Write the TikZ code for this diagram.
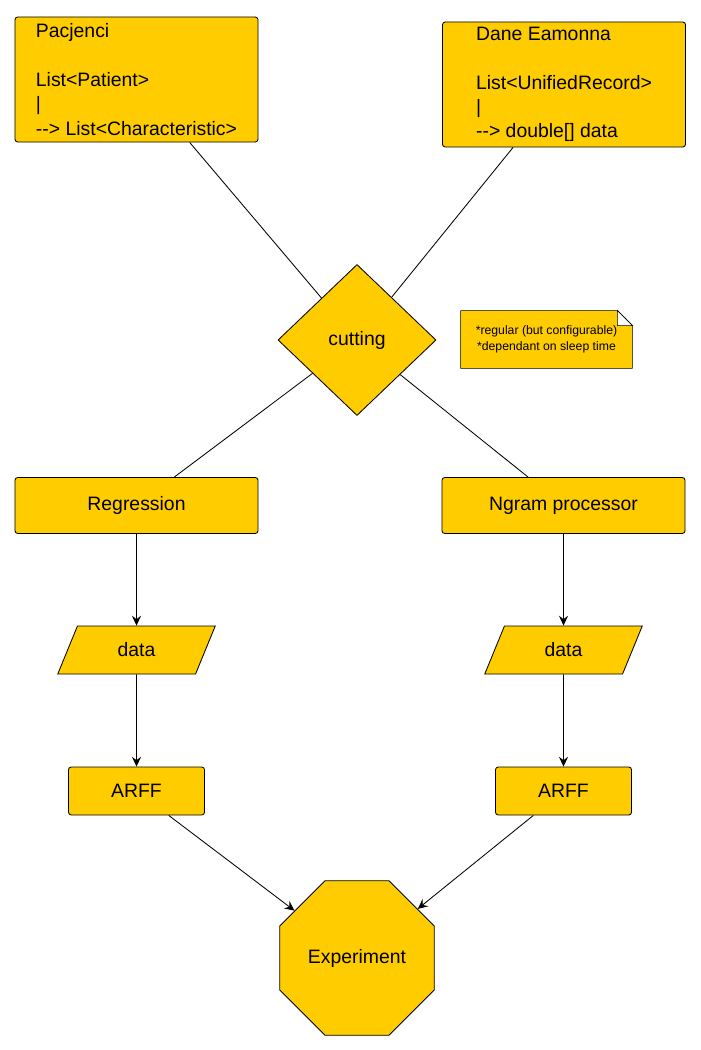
\documentclass[tikz,border=0pt]{standalone}
\usepackage{fontspec}
\setmainfont{Liberation Sans}
\usetikzlibrary{shapes.geometric, backgrounds, arrows.meta}
\definecolor{flowyellow}{HTML}{FFCC00}

\begin{document}
\begin{tikzpicture}[>={Stealth[length=7pt, width=6.5pt, inset=2.5pt]}, x=0.025cm, y=-0.025cm, line width=0.6pt,
    every node/.style={font=\fontsize{13.8}{17.3}\selectfont},
    block/.style={draw, fill=flowyellow, rounded corners=2pt, align=left},
    decision/.style={diamond, draw, fill=flowyellow, inner sep=0pt, minimum width=3.95cm, minimum height=3.775cm},
    io/.style={trapezium, trapezium left angle=71.6, trapezium right angle=108.4, trapezium stretches=true, draw, fill=flowyellow, minimum width=3.95cm, minimum height=1.2cm},
    finish/.style={regular polygon, regular polygon sides=8, draw, fill=flowyellow, inner sep=0pt, minimum size=4.18cm},
    memo/.style={align=center, inner sep=0pt, minimum width=4.275cm, minimum height=1.425cm, font=\fontsize{8.7}{11.4}\selectfont}]
    \useasboundingbox (0, 0) rectangle (700, 1050);

    % Nodes
    \node[block, minimum width=6.075cm, minimum height=3.125cm] (pac) at (136.5, 79.5) {Pacjenci\\ \mbox{}\\ List<Patient>\\ |\\ -{}-> List<Characteristic>};
    \node[block, minimum width=6.075cm, minimum height=3.125cm] (dane) at (564, 84.5) {Dane Eamonna\\ \mbox{}\\ List<UnifiedRecord>\\ |\\ -{}-> double[] data};
    \node[decision] (cut) at (357, 340) {cutting};
    \node[memo] (note) at (546.5, 339.5) {*regular (but configurable)\\{}*dependant on sleep time};
    \node[block, minimum width=6.075cm, minimum height=1.4cm] (reg) at (136.5, 505.5) {Regression};
    \node[block, minimum width=6.075cm, minimum height=1.4cm] (ngram) at (563.5, 505.5) {Ngram processor};
    \node[io] (dataL) at (136.5, 650) {data};
    \node[io] (dataR) at (563.5, 650) {data};
    \node[block, minimum width=3.4cm, minimum height=1.2cm] (arffL) at (136.5, 791) {ARFF};
    \node[block, minimum width=3.4cm, minimum height=1.2cm] (arffR) at (563.5, 791) {ARFF};
    \node[finish] (exp) at (357, 958) {Experiment};

    % Note sheet
    \begin{scope}[on background layer]
        \draw[fill=flowyellow] (note.south west) -- (note.north west) -- ([xshift=-0.375cm]note.north east) -- ([yshift=-0.375cm]note.north east) -- (note.south east) -- cycle;
        \draw[fill=white, line width=0.4pt] ([xshift=-0.375cm]note.north east) -- ([xshift=-0.375cm, yshift=-0.375cm]note.north east) -- ([yshift=-0.375cm]note.north east) -- cycle;
    \end{scope}

    % Edges
    \draw (pac) -- (cut);
    \draw (dane) -- (cut);
    \draw (cut) -- (reg);
    \draw (cut) -- (ngram);
    \draw[->] (reg) -- (dataL);
    \draw[->] (ngram) -- (dataR);
    \draw[->] (dataL) -- (arffL);
    \draw[->] (dataR) -- (arffR);
    \draw[->] (arffL) -- (exp);
    \draw[->] (arffR) -- (exp);
\end{tikzpicture}
\end{document}
